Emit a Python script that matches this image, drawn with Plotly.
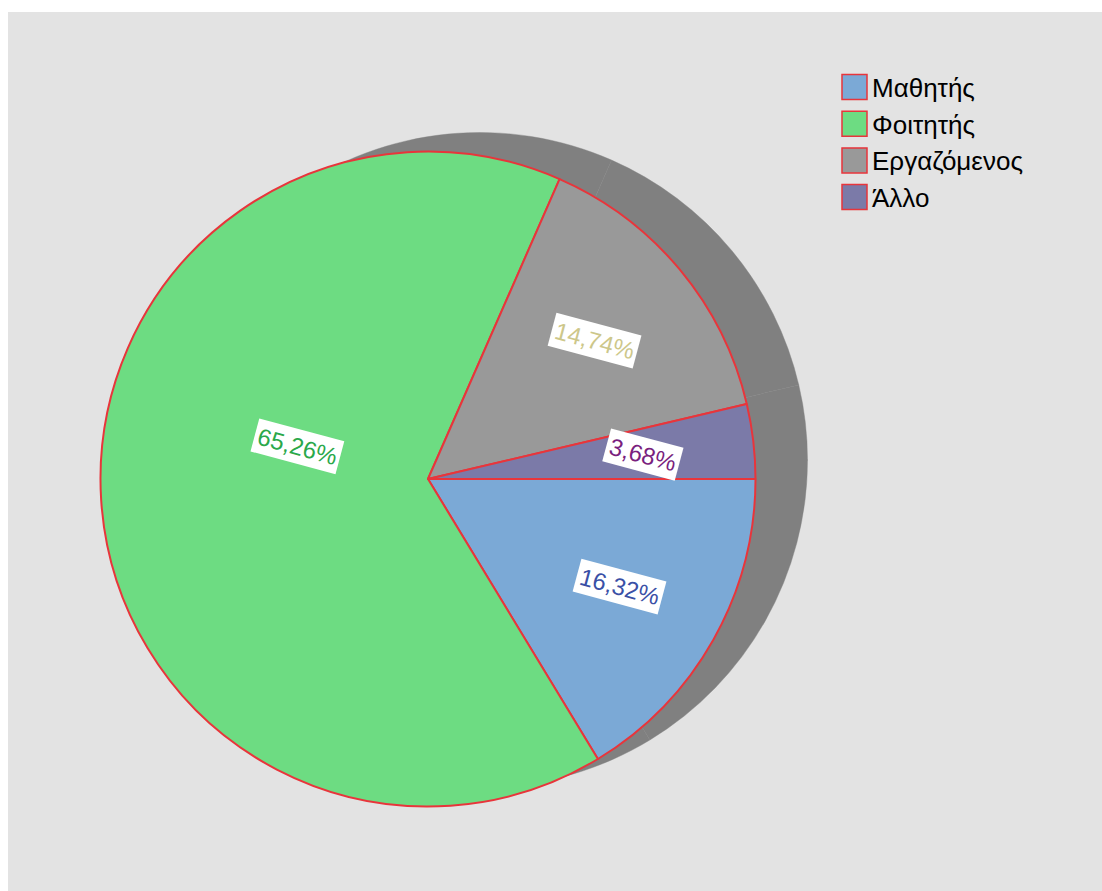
import math
import plotly.graph_objects as go

# Occupation breakdown (percent of respondents)
categories = ["Μαθητής", "Φοιτητής", "Εργαζόμενος", "Άλλο"]
values = [16.32, 65.26, 14.74, 3.68]
value_labels = ["16,32%", "65,26%", "14,74%", "3,68%"]

slice_colors = ["#7ba9d6", "#6ddc82", "#999999", "#7b7aa8"]
label_colors = ["#3a50a6", "#2aa84a", "#cdc78a", "#7a1f7e"]
border_color = "#e8353b"
shadow_color = "#808080"
panel_color = "#e3e3e3"

W, H = 1102, 891
ML, MT, MR, MB = 8, 12, 0, 0
PW, PH = W - ML - MR, H - MT - MB

# pie geometry in page pixels
cx, cy, R = 428.0, 479.0, 327.5
shadow_dx, shadow_dy = 52.0, -19.0


def px_x(x):
    return (x - ML) / PW


def px_y(y):
    return 1 - (y - MT) / PH


def domain(cxp, cyp, r):
    return dict(x=[px_x(cxp - r), px_x(cxp + r)], y=[px_y(cyp + r), px_y(cyp - r)])


fig = go.Figure()

# offset drop shadow behind the pie
fig.add_trace(go.Pie(
    labels=categories, values=values, sort=False, direction="clockwise", rotation=90,
    marker=dict(colors=[shadow_color] * len(values), line=dict(color=shadow_color, width=0.4)),
    textinfo="none", hoverinfo="skip", showlegend=False,
    domain=domain(cx + shadow_dx, cy + shadow_dy, R),
))

fig.add_trace(go.Pie(
    labels=categories, values=values, sort=False, direction="clockwise", rotation=90,
    marker=dict(colors=slice_colors, line=dict(color=border_color, width=2)),
    textinfo="none", showlegend=False,
    domain=domain(cx, cy, R),
))

# rotated value labels placed along each slice's mid-angle
label_radius = [0.67, 0.41, 0.66, 0.66]
label_shift = [0, 18, 0, 0]
total = sum(values)
start = 0.0
annotations = []
for v, txt, col, rf, sh in zip(values, value_labels, label_colors, label_radius, label_shift):
    mid = start + v / total * 360 / 2 + sh
    start += v / total * 360
    a = math.radians(mid)
    lx = cx + rf * R * math.cos(a)
    ly = cy + rf * R * math.sin(a)
    annotations.append(dict(
        x=px_x(lx), y=px_y(ly), xref="paper", yref="paper", text=txt, showarrow=False,
        xanchor="center", yanchor="middle",
        textangle=15, bgcolor="white", borderpad=3,
        font=dict(family="Liberation Sans, Arial, sans-serif", size=24, color=col),
    ))

# legend: swatches with red outline and category names
shapes = [dict(type="rect", xref="paper", yref="paper", x0=0, x1=1, y0=0, y1=1,
               fillcolor=panel_color, line=dict(width=0), layer="below")]
leg_x, leg_y0, leg_step, sw = 842, 87, 36.7, 25
for i, (name, col) in enumerate(zip(categories, slice_colors)):
    yc = leg_y0 + i * leg_step
    shapes.append(dict(type="rect", xref="paper", yref="paper",
                       x0=px_x(leg_x), x1=px_x(leg_x + sw),
                       y0=px_y(yc + sw / 2), y1=px_y(yc - sw / 2),
                       fillcolor=col, line=dict(color=border_color, width=1.5)))
    annotations.append(dict(
        x=px_x(leg_x + sw + 3), y=px_y(yc + 1), xref="paper", yref="paper",
        xanchor="left", yanchor="middle", text=name, showarrow=False,
        font=dict(family="Liberation Sans, Arial, sans-serif", size=26, color="black"),
    ))

fig.update_layout(
    width=W, height=H,
    margin=dict(l=ML, r=MR, t=MT, b=MB, pad=0),
    paper_bgcolor="white", plot_bgcolor=panel_color,
    shapes=shapes, annotations=annotations, showlegend=False,
)

fig.write_html("out.html", config={"displayModeBar": False})
